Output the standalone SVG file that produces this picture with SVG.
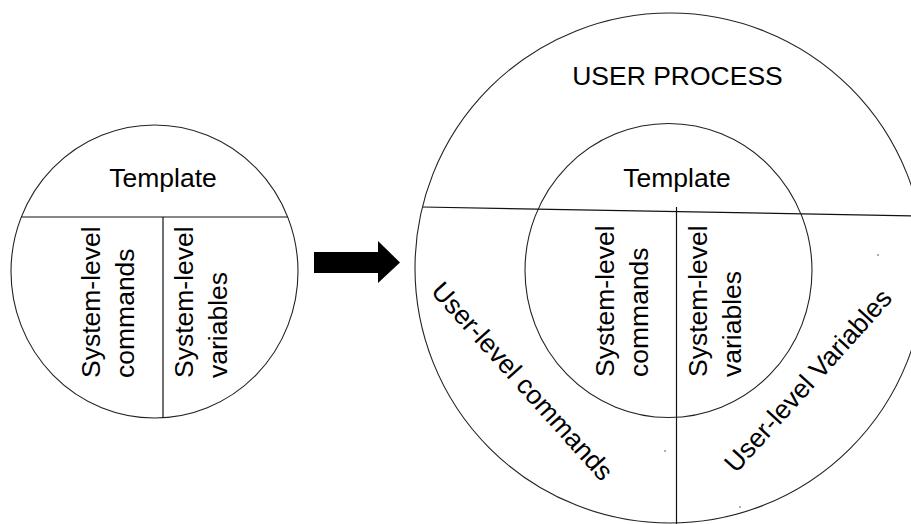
<svg xmlns="http://www.w3.org/2000/svg" width="911" height="524" viewBox="0 0 911 524">
  <style>
    .shape { fill: none; stroke: #222; stroke-width: 1.1; }
    .div { stroke: #111; stroke-width: 1.2; fill: none; }
    .t { font-family: "Liberation Sans", Arial, sans-serif; font-size: 26.5px; fill: #000; }
    .c { text-anchor: middle; }
    .speck { fill: #444; }
  </style>
  <rect width="911" height="524" fill="#fff"/>

  <g id="template-left">
    <ellipse class="shape" cx="154.5" cy="271.5" rx="143.5" ry="146.5"/>
    <line class="div" x1="21.3" y1="217" x2="287.7" y2="217"/>
    <line class="div" x1="163" y1="217" x2="163" y2="418"/>
    <text class="t c" x="163" y="187">Template</text>
    <text class="t" transform="translate(100,378) rotate(-90)">System-level</text>
    <text class="t" transform="translate(134,378) rotate(-90)">commands</text>
    <text class="t" transform="translate(193,378) rotate(-90)">System-level</text>
    <text class="t" transform="translate(227,378) rotate(-90)">variables</text>
  </g>

  <g id="connectors">
    <polygon fill="#000" points="314,252 378,252 378,241 400,262.5 378,283 378,273 314,273"/>
  </g>

  <g id="user-process">
    <circle class="shape" cx="670" cy="268" r="255"/>
    <line class="div" x1="422.5" y1="207" x2="918" y2="216"/>
    <line class="div" x1="676.5" y1="207" x2="676.5" y2="524"/>
    <text class="t c" x="677.5" y="85">USER PROCESS</text>
    <text class="t" transform="translate(430,292) rotate(48)">User-level commands</text>
    <text class="t" transform="translate(736,474) rotate(-48)">User-level Variables</text>
    <circle class="speck" cx="665" cy="451" r="0.8"/>
    <circle class="speck" cx="878" cy="255" r="0.8"/>
    <circle class="speck" cx="740" cy="507" r="0.8"/>
  </g>

  <g id="template-inner">
    <ellipse class="shape" cx="668.5" cy="270.5" rx="143.5" ry="147"/>
    <text class="t c" x="677" y="187">Template</text>
    <text class="t" transform="translate(614,377) rotate(-90)">System-level</text>
    <text class="t" transform="translate(648,377) rotate(-90)">commands</text>
    <text class="t" transform="translate(707,377) rotate(-90)">System-level</text>
    <text class="t" transform="translate(741,377) rotate(-90)">variables</text>
  </g>
</svg>
